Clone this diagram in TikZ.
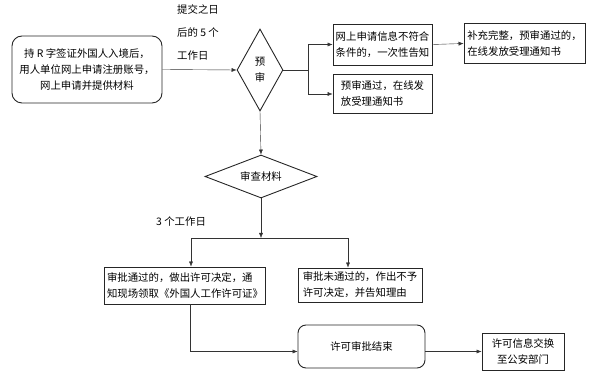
\documentclass[tikz,border=0pt]{standalone}
\usepackage{fontspec}
\newfontfamily\cjk{Noto Sans CJK SC}
\usetikzlibrary{arrows.meta,shapes.geometric}

\begin{document}
\begin{tikzpicture}[
  x=1pt, y=-1pt,
  font=\cjk\fontsize{10.4}{16}\selectfont,
  box/.style={draw=black!85, line width=0.9pt, align=left, inner xsep=2.5pt, inner ysep=3pt},
  rbox/.style={box, rounded corners=10pt, align=center},
  dia/.style={draw=black!85, line width=0.9pt, diamond, aspect=2, inner sep=0pt, align=center},
  lab/.style={inner sep=1pt, align=left},
  >={Latex[length=5pt,width=4pt]}
]
\useasboundingbox (0,0) rectangle (600,387);

\node[rbox, minimum width=150pt, minimum height=67pt] (apply) at (87,69.5) {持 R 字签证外国人入境后，\\用人单位网上申请注册账号，\\网上申请并提供材料};
\node[dia, minimum width=46pt, minimum height=82pt, aspect=0.5] (pre) at (260,70) {预\\审};
\node[box, minimum width=99pt, minimum height=41pt] (notok) at (382.5,44.5) {网上申请信息不符合\\条件的，一次性告知};
\node[box, minimum width=99pt, minimum height=39pt] (ok) at (382.5,94) {预审通过，在线发\\放受理通知书};
\node[box, minimum width=121pt, minimum height=40pt] (fix) at (524.5,43.5) {补充完整，预审通过的，\\在线发放受理通知书};
\node[dia, minimum width=112pt, minimum height=43pt, aspect=2.6] (check) at (261,176.5) {审查材料};
\node[box, minimum width=160pt, minimum height=37pt] (pass) at (185,285.5) {审批通过的，做出许可决定，通\\知现场领取《外国人工作许可证》};
\node[box, minimum width=124pt, minimum height=34pt] (fail) at (360,285) {审批未通过的，作出不予\\许可决定，并告知理由};
\node[rbox, rounded corners=8pt, minimum width=127pt, minimum height=43pt] (finish) at (361.5,346.5) {许可审批结束};
\node[box, align=center, minimum width=82pt, minimum height=37pt] (police) at (523,351.5) {许可信息交换\\至公安部门};

\node[lab, anchor=north west, font=\cjk\fontsize{10.4}{23}\selectfont] (days5) at (176,3) {提交之日\\后的 5 个\\工作日};
\node[lab, anchor=west] (days3) at (155,222) {3 个工作日};

\coordinate (split1) at (308,70);
\coordinate (split2) at (261,238);

\draw[->, black!80] (apply.east) -- (pre.west);
\draw[black!80] (pre.east) -- (split1);
\draw[->, black!80] (split1) |- (notok.west);
\draw[->, black!80] (split1) |- (ok.west);
\draw[->, black!80] (notok.east) -- (fix.west);
\draw[->, black!80] (pre.south) -- (check.north);
\draw[->, black!80] (check.south) -- (split2);
\draw[->, black!80] (split2) -| ([xshift=6pt]pass.north);
\draw[->, black!80] (split2) -| ([xshift=-12pt]fail.north);
\draw[->, black!80] ([xshift=5pt]pass.south) |- ([yshift=-5pt]finish.west);
\draw[->, black!80] ([yshift=-5pt]finish.east) -- (police.west);
\end{tikzpicture}
\end{document}
